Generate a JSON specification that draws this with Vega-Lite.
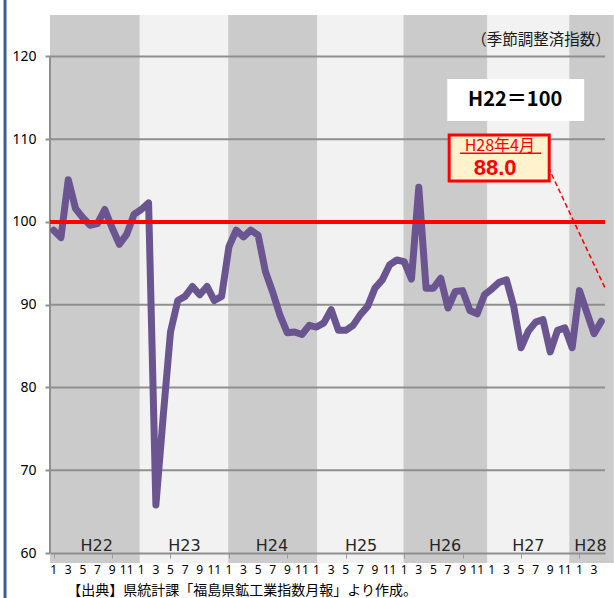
{
  "$schema": "https://vega.github.io/schema/vega-lite/v6.json",
  "width": 555,
  "height": 538,
  "autosize": {"type": "none"},
  "padding": {"left": 50, "top": 15, "right": 9, "bottom": 45},
  "background": "white",
  "config": {"view": {"stroke": null}},
  "datasets": {
    "series": [
      {"t": 0, "v": 99.0}, {"t": 1, "v": 98.1}, {"t": 2, "v": 105.1}, {"t": 3, "v": 101.6},
      {"t": 4, "v": 100.5}, {"t": 5, "v": 99.6}, {"t": 6, "v": 99.8}, {"t": 7, "v": 101.5},
      {"t": 8, "v": 99.3}, {"t": 9, "v": 97.3}, {"t": 10, "v": 98.5}, {"t": 11, "v": 100.9},
      {"t": 12, "v": 101.5}, {"t": 13, "v": 102.3}, {"t": 14, "v": 65.8}, {"t": 15, "v": 76.5},
      {"t": 16, "v": 86.7}, {"t": 17, "v": 90.5}, {"t": 18, "v": 91.0}, {"t": 19, "v": 92.2},
      {"t": 20, "v": 91.2}, {"t": 21, "v": 92.2}, {"t": 22, "v": 90.5}, {"t": 23, "v": 91.0},
      {"t": 24, "v": 97.0}, {"t": 25, "v": 99.0}, {"t": 26, "v": 98.2}, {"t": 27, "v": 99.0},
      {"t": 28, "v": 98.4}, {"t": 29, "v": 94.0}, {"t": 30, "v": 91.5}, {"t": 31, "v": 88.7},
      {"t": 32, "v": 86.6}, {"t": 33, "v": 86.7}, {"t": 34, "v": 86.4}, {"t": 35, "v": 87.5},
      {"t": 36, "v": 87.3}, {"t": 37, "v": 87.8}, {"t": 38, "v": 89.4}, {"t": 39, "v": 86.9},
      {"t": 40, "v": 86.9}, {"t": 41, "v": 87.5}, {"t": 42, "v": 88.8}, {"t": 43, "v": 89.8},
      {"t": 44, "v": 92.0}, {"t": 45, "v": 93.0}, {"t": 46, "v": 94.8}, {"t": 47, "v": 95.4},
      {"t": 48, "v": 95.2}, {"t": 49, "v": 93.1}, {"t": 50, "v": 104.2}, {"t": 51, "v": 92.0},
      {"t": 52, "v": 92.0}, {"t": 53, "v": 93.2}, {"t": 54, "v": 89.6}, {"t": 55, "v": 91.6},
      {"t": 56, "v": 91.7}, {"t": 57, "v": 89.3}, {"t": 58, "v": 88.9}, {"t": 59, "v": 91.2},
      {"t": 60, "v": 91.9}, {"t": 61, "v": 92.7}, {"t": 62, "v": 93.0}, {"t": 63, "v": 89.8},
      {"t": 64, "v": 84.8}, {"t": 65, "v": 86.8}, {"t": 66, "v": 87.9}, {"t": 67, "v": 88.2},
      {"t": 68, "v": 84.3}, {"t": 69, "v": 86.9}, {"t": 70, "v": 87.2}, {"t": 71, "v": 84.8},
      {"t": 72, "v": 91.7}, {"t": 73, "v": 89.1}, {"t": 74, "v": 86.5}, {"t": 75, "v": 88.0}
    ],
    "months": [
      {"t": 0, "m": "1"}, {"t": 2, "m": "3"}, {"t": 4, "m": "5"}, {"t": 6, "m": "7"}, {"t": 8, "m": "9"}, {"t": 10, "m": "11"},
      {"t": 12, "m": "1"}, {"t": 14, "m": "3"}, {"t": 16, "m": "5"}, {"t": 18, "m": "7"}, {"t": 20, "m": "9"}, {"t": 22, "m": "11"},
      {"t": 24, "m": "1"}, {"t": 26, "m": "3"}, {"t": 28, "m": "5"}, {"t": 30, "m": "7"}, {"t": 32, "m": "9"}, {"t": 34, "m": "11"},
      {"t": 36, "m": "1"}, {"t": 38, "m": "3"}, {"t": 40, "m": "5"}, {"t": 42, "m": "7"}, {"t": 44, "m": "9"}, {"t": 46, "m": "11"},
      {"t": 48, "m": "1"}, {"t": 50, "m": "3"}, {"t": 52, "m": "5"}, {"t": 54, "m": "7"}, {"t": 56, "m": "9"}, {"t": 58, "m": "11"},
      {"t": 60, "m": "1"}, {"t": 62, "m": "3"}, {"t": 64, "m": "5"}, {"t": 66, "m": "7"}, {"t": 68, "m": "9"}, {"t": 70, "m": "11"},
      {"t": 72, "m": "1"}, {"t": 74, "m": "3"}
    ],
    "bands": [
      {"x1": -0.5, "x2": 11.8, "shade": "dark"},
      {"x1": 11.8, "x2": 23.9, "shade": "light"},
      {"x1": 23.9, "x2": 36.1, "shade": "dark"},
      {"x1": 36.1, "x2": 47.9, "shade": "light"},
      {"x1": 47.9, "x2": 59.4, "shade": "dark"},
      {"x1": 59.4, "x2": 70.6, "shade": "light"},
      {"x1": 70.6, "x2": 76.7, "shade": "dark"}
    ],
    "years": [
      {"t": 5.9, "label": "H22"}, {"t": 17.9, "label": "H23"}, {"t": 29.9, "label": "H24"},
      {"t": 42.1, "label": "H25"}, {"t": 53.6, "label": "H26"}, {"t": 65.0, "label": "H27"},
      {"t": 73.5, "label": "H28"}
    ],
    "grid": [{"y": 70}, {"y": 80}, {"y": 90}, {"y": 110}, {"y": 120}]
  },
  "layer": [
    {
      "data": {"name": "bands"},
      "mark": {"type": "rect"},
      "encoding": {
        "x": {"field": "x1", "type": "quantitative",
          "scale": {"domain": [-0.5, 75.5], "nice": false, "zero": false},
          "axis": {
            "title": null,
            "zindex": 1,
            "values": [0,1,2,3,4,5,6,7,8,9,10,11,12,13,14,15,16,17,18,19,20,21,22,23,24,25,26,27,28,29,30,31,32,33,34,35,36,37,38,39,40,41,42,43,44,45,46,47,48,49,50,51,52,53,54,55,56,57,58,59,60,61,62,63,64,65,66,67,68,69,70,71,72,73,74,75],
            "labels": false,
            "grid": false,
            "domainColor": "#8f8f8f", "domainWidth": 2,
            "tickColor": "#9a9a9a", "tickSize": 5, "tickWidth": 1
          }},
        "x2": {"field": "x2"},
        "y": {"datum": 58.8, "type": "quantitative",
          "scale": {"domain": [60, 125], "nice": false, "zero": false},
          "axis": {
            "title": null,
            "values": [60, 70, 80, 90, 100, 110, 120],
            "grid": false, "domain": false,
            "tickColor": "#8f8f8f", "tickSize": 5, "tickWidth": 2,
            "labelFont": "Noto Sans", "labelFontSize": 14, "labelColor": "#000000",
            "labelPadding": 9
          }},
        "y2": {"datum": 125},
        "color": {"field": "shade", "type": "nominal",
          "scale": {"domain": ["dark", "light"], "range": ["#cbcbcb", "#f2f2f2"]}, "legend": null}
      }
    },
    {
      "data": {"name": "grid"},
      "mark": {"type": "rule", "color": "#8f8f8f", "strokeWidth": 2},
      "encoding": {"y": {"field": "y", "type": "quantitative"}}
    },
    {
      "data": {"values": [{}]},
      "mark": {"type": "rule", "color": "#8f8f8f", "strokeWidth": 2},
      "encoding": {
        "x": {"datum": -0.5, "type": "quantitative"},
        "y": {"datum": 60, "type": "quantitative"},
        "y2": {"datum": 120}
      }
    },
    {
      "data": {"name": "years"},
      "mark": {"type": "text", "font": "DejaVu Sans", "fontSize": 16, "color": "#262626", "baseline": "alphabetic", "align": "center"},
      "encoding": {
        "x": {"field": "t", "type": "quantitative"},
        "y": {"datum": 60.25, "type": "quantitative"},
        "text": {"field": "label"}
      }
    },
    {
      "data": {"name": "months"},
      "mark": {"type": "text", "font": "Noto Sans", "fontSize": 12, "color": "#000000", "baseline": "middle", "align": "center"},
      "encoding": {
        "x": {"field": "t", "type": "quantitative"},
        "y": {"datum": 57.95, "type": "quantitative"},
        "text": {"field": "m"}
      }
    },
    {
      "data": {"name": "series"},
      "mark": {"type": "line", "color": "#6a5591", "strokeWidth": 7, "strokeCap": "round", "strokeJoin": "round"},
      "encoding": {
        "x": {"field": "t", "type": "quantitative"},
        "y": {"field": "v", "type": "quantitative"}
      }
    },
    {
      "data": {"values": [{}]},
      "mark": {"type": "rule", "color": "#ff0000", "strokeWidth": 4},
      "encoding": {"y": {"datum": 100, "type": "quantitative"}}
    },
    {
      "data": {"values": [{"x1": 53.9, "x2": 72.65, "y1": 117.27, "y2": 112.19}]},
      "mark": {"type": "rect", "color": "#ffffff"},
      "encoding": {
        "x": {"field": "x1", "type": "quantitative"},
        "x2": {"field": "x2"},
        "y": {"field": "y1", "type": "quantitative"},
        "y2": {"field": "y2"}
      }
    },
    {
      "data": {"values": [{"t": 63.2, "y": 114.73, "label": "H22＝100"}]},
      "mark": {"type": "text", "font": "Noto Sans CJK JP", "fontWeight": "bold", "fontSize": 20, "color": "#000000", "baseline": "middle", "align": "center"},
      "encoding": {
        "x": {"field": "t", "type": "quantitative"},
        "y": {"field": "y", "type": "quantitative"},
        "text": {"field": "label"}
      }
    },
    {
      "data": {"values": [{"x1": 67.72, "y1": 106.64, "x2": 75.5, "y2": 92.02}]},
      "mark": {"type": "rule", "color": "#ff0000", "strokeWidth": 1.5, "strokeDash": [5, 3]},
      "encoding": {
        "x": {"field": "x1", "type": "quantitative"},
        "y": {"field": "y1", "type": "quantitative"},
        "x2": {"field": "x2"},
        "y2": {"field": "y2"}
      }
    },
    {
      "data": {"values": [{"x1": 54.16, "x2": 67.86, "y1": 110.5, "y2": 104.94}]},
      "mark": {"type": "rect", "fill": "#fff2cc", "stroke": "#ff0000", "strokeWidth": 3},
      "encoding": {
        "x": {"field": "x1", "type": "quantitative"},
        "x2": {"field": "x2"},
        "y": {"field": "y1", "type": "quantitative"},
        "y2": {"field": "y2"}
      }
    },
    {
      "data": {"values": [{"x1": 55.66, "x2": 66.76, "y": 108.29}]},
      "mark": {"type": "rule", "color": "#ff0000", "strokeWidth": 1.5},
      "encoding": {
        "x": {"field": "x1", "type": "quantitative"},
        "x2": {"field": "x2"},
        "y": {"field": "y", "type": "quantitative"}
      }
    },
    {
      "data": {"values": [{"t": 61.1, "y": 109.17, "label": "H28年4月"}]},
      "mark": {"type": "text", "font": "Noto Sans CJK JP", "fontSize": 16, "color": "#ff0000", "baseline": "middle", "align": "center"},
      "encoding": {
        "x": {"field": "t", "type": "quantitative"},
        "y": {"field": "y", "type": "quantitative"},
        "text": {"field": "label"}
      }
    },
    {
      "data": {"values": [{"t": 60.45, "y": 105.67, "label": "88.0"}]},
      "mark": {"type": "text", "font": "Liberation Sans", "fontWeight": "bold", "fontSize": 22, "color": "#ff0000", "baseline": "alphabetic", "align": "center"},
      "encoding": {
        "x": {"field": "t", "type": "quantitative"},
        "y": {"field": "y", "type": "quantitative"},
        "text": {"field": "label"}
      }
    },
    {
      "data": {"values": [{"t": 76.3, "y": 121.98, "label": "（季節調整済指数）"}]},
      "mark": {"type": "text", "font": "Noto Sans CJK JP", "fontSize": 15.5, "color": "#1a1a1a", "baseline": "middle", "align": "right"},
      "encoding": {
        "x": {"field": "t", "type": "quantitative"},
        "y": {"field": "y", "type": "quantitative"},
        "text": {"field": "label"}
      }
    },
    {
      "data": {"values": [{"t": 1.85, "y": 55.45, "label": "【出典】県統計課「福島県鉱工業指数月報」より作成。"}]},
      "mark": {"type": "text", "font": "Noto Sans CJK JP", "fontSize": 14, "color": "#000000", "baseline": "middle", "align": "left"},
      "encoding": {
        "x": {"field": "t", "type": "quantitative"},
        "y": {"field": "y", "type": "quantitative"},
        "text": {"field": "label"}
      }
    },
    {
      "data": {"values": [{}]},
      "mark": {"type": "rule", "color": "#3d5f99", "strokeWidth": 3},
      "encoding": {
        "x": {"datum": -6.66, "type": "quantitative"},
        "y": {"datum": 54.5, "type": "quantitative"},
        "y2": {"datum": 126.9}
      }
    }
  ]
}
